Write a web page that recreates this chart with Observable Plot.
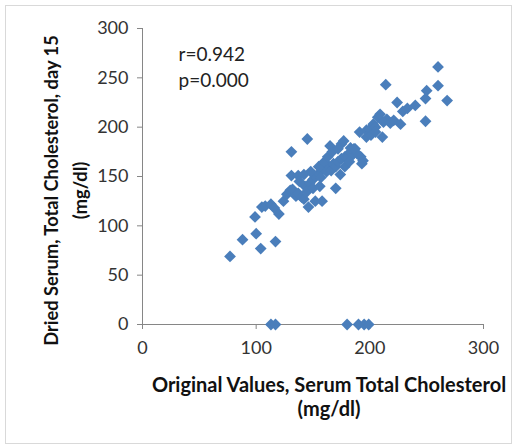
<!DOCTYPE html>
<html>
<head>
<meta charset="utf-8">
<script src="https://cdn.jsdelivr.net/npm/d3@7"></script>
<script src="https://cdn.jsdelivr.net/npm/@observablehq/plot@0.6"></script>
<style>
  html, body { margin: 0; padding: 0; background: #fff; }
  #wrap { position: relative; width: 516px; height: 447px; }
  #border { position: absolute; left: 5px; top: 5px; width: 505px; height: 437px; border: 1px solid #d9d9d9; pointer-events: none; }
</style>
</head>
<body>
<div id="wrap"><div id="border"></div></div>
<script>
// Original values (x) vs dried serum day 15 (y), mg/dl
const original = [113,117,180,190,195,199,
  77,88,100,104,117,99,105,108,113,116,120,124,127,130,132,135,137,140,142,146,152,158,
  131,145,131,137,142,143,147,150,152,155,157,160,162,164,166,168,170,172,174,170,175,178,
  180,183,185,187,189,192,194,193,165,175,177,183,186,191,197,200,203,205,207,209,211,215,
  212,218,221,227,229,233,224,240,249,250,249,214,260,268,260,155,160,148,138,145,150,163,
  167,172,156,178,182,197,201,205];
const dried = [0,0,0,0,0,0,
  69,86,92,77,84,109,119,120,122,118,112,125,132,136,137,130,133,129,127,119,125,125,
  175,188,151,151,152,140,143,147,150,153,149,158,155,160,156,163,160,165,152,138,168,170,
  169,175,172,178,173,170,166,163,181,183,186,179,178,195,197,198,203,200,210,213,190,208,
  205,204,207,203,216,219,225,222,229,237,206,243,242,227,261,160,165,155,145,135,138,170,
  175,178,140,160,165,190,192,195];
const xTicks = [0, 100, 200, 300];
const yTicks = [0, 50, 100, 150, 200, 250, 300];
const xTitle = "Original Values, Serum Total Cholesterol\n(mg/dl)";
const yTitle = "Dried Serum, Total Cholesterol, day 15\n(mg/dl)";
const stats = ["r=0.942", "p=0.000"];

const data = original.map((x, i) => ({x, y: dried[i]}));

const chart = Plot.plot({
  width: 516,
  height: 447,
  marginLeft: 142,
  marginRight: 33,
  marginTop: 28,
  marginBottom: 123,
  style: {fontFamily: "Lato, sans-serif", fontSize: "18px", background: "transparent", color: "#333"},
  x: {domain: [0, 300]},
  y: {domain: [0, 300]},
  marks: [
    Plot.axisX({ticks: xTicks, tickSize: 5, tickPadding: 12, label: null, stroke: "#868686", fill: "#333", fontSize: 18}),
    Plot.axisY({ticks: yTicks, tickSize: 5, tickPadding: 9, label: null, stroke: "#868686", fill: "#333", fontSize: 18}),
    Plot.ruleX([0], {stroke: "#868686"}),
    Plot.ruleY([0], {stroke: "#868686"}),
    Plot.dot(data, {x: "x", y: "y", symbol: "diamond2", r: 5.3, fill: "#4a7ebb", stroke: "none"}),
    Plot.text([stats.join("\n")], {frameAnchor: "top-left", dx: 36, dy: 37, textAnchor: "start", lineAnchor: "middle", lineHeight: 1.38, fontSize: 19, fill: "#222"}),
    Plot.text([xTitle], {frameAnchor: "bottom", dx: 16, dy: 50, lineAnchor: "top", textAnchor: "middle", fontWeight: "bold", fontSize: 20, lineHeight: 1.2, fill: "#111"}),
    Plot.text([yTitle], {frameAnchor: "left", rotate: -90, dx: -79, dy: 14, lineAnchor: "middle", textAnchor: "middle", fontWeight: "bold", fontSize: 18.3, lineHeight: 1.55, fill: "#111"})
  ]
});
document.getElementById("wrap").prepend(chart);
</script>
</body>
</html>
